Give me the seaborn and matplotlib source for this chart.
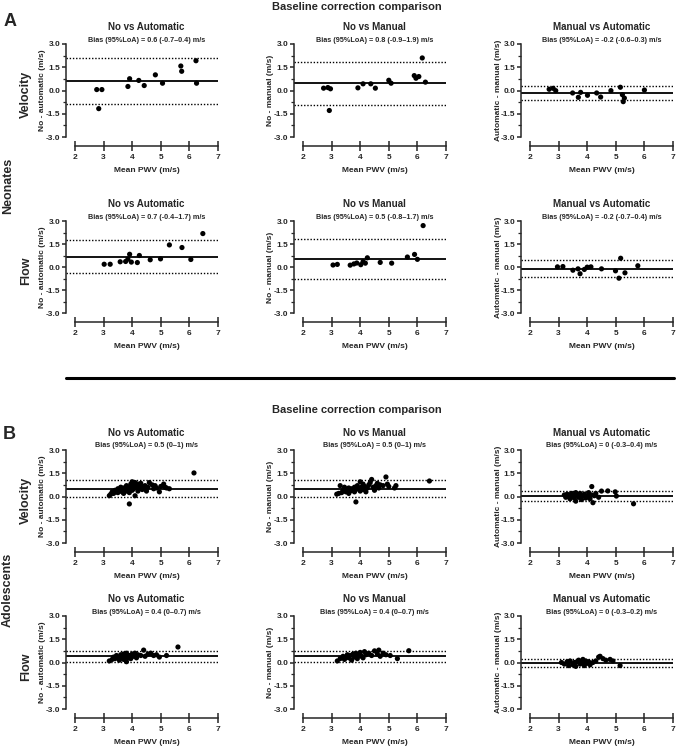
import numpy as np
import pandas as pd
import matplotlib
matplotlib.use("Agg")
import matplotlib.pyplot as plt
from matplotlib.lines import Line2D
from matplotlib.ticker import MultipleLocator, FormatStrFormatter
import seaborn as sns

# ---- data: (mean PWV, difference) per panel, bias and limits of agreement ----
# Neonates, velocity
neo_vel_na_x = [2.76, 2.94, 2.83, 3.85, 3.91, 4.23, 4.42, 4.81, 5.06, 5.70, 5.73, 6.23, 6.25]
neo_vel_na_y = [0.06, 0.06, -1.17, 0.26, 0.76, 0.65, 0.32, 1.01, 0.47, 1.58, 1.24, 1.92, 0.47]
neo_vel_nm_x = [2.72, 2.87, 2.96, 2.92, 3.92, 4.10, 4.37, 4.53, 5.00, 5.08, 5.89, 5.95, 6.05, 6.17, 6.28]
neo_vel_nm_y = [0.15, 0.19, 0.11, -1.29, 0.17, 0.43, 0.43, 0.15, 0.66, 0.47, 0.96, 0.79, 0.90, 2.10, 0.54]
neo_vel_ma_x = [2.67, 2.81, 2.90, 3.49, 3.69, 3.77, 4.01, 4.33, 4.47, 4.83, 5.16, 5.23, 5.30, 5.26, 6.00]
neo_vel_ma_y = [0.08, 0.14, -0.01, -0.16, -0.44, -0.12, -0.31, -0.16, -0.42, -0.01, 0.21, -0.27, -0.49, -0.72, 0.03]
# Neonates, flow
neo_flow_na_x = [3.02, 3.23, 3.58, 3.77, 3.85, 3.91, 3.97, 4.18, 4.25, 4.63, 4.99, 5.30, 5.74, 6.05, 6.47]
neo_flow_na_y = [0.18, 0.18, 0.34, 0.36, 0.51, 0.83, 0.32, 0.29, 0.75, 0.47, 0.53, 1.44, 1.27, 0.49, 2.18]
neo_flow_nm_x = [3.05, 3.20, 3.65, 3.78, 3.88, 4.02, 4.10, 4.18, 4.25, 4.70, 5.10, 5.65, 5.90, 6.00, 6.20]
neo_flow_nm_y = [0.13, 0.17, 0.12, 0.20, 0.26, 0.15, 0.35, 0.25, 0.60, 0.30, 0.25, 0.65, 0.82, 0.50, 2.70]
neo_flow_ma_x = [2.96, 3.15, 3.50, 3.68, 3.75, 3.90, 4.00, 4.13, 4.50, 4.99, 5.11, 5.17, 5.32, 5.77]
neo_flow_ma_y = [0.01, 0.03, -0.21, -0.12, -0.44, -0.16, -0.01, 0.01, -0.12, -0.25, -0.73, 0.57, -0.38, 0.08]

# Adolescents, velocity
ado_vel_na_x = [3.20, 3.25, 3.30, 3.35, 3.40, 3.45, 3.50, 3.50, 3.55, 3.60, 3.60, 3.65, 3.70, 3.70, 3.75,
                3.80, 3.80, 3.85, 3.90, 3.90, 3.92, 3.95, 4.00, 4.00, 4.05, 4.05, 4.10, 4.10, 4.15, 4.20,
                4.20, 4.25, 4.30, 4.30, 4.35, 4.40, 4.45, 4.50, 4.55, 4.60, 4.70, 4.75, 4.80, 4.85, 4.95,
                5.00, 5.10, 5.15, 5.20, 5.30, 6.16]
ado_vel_na_y = [0.05, 0.15, 0.30, 0.20, 0.40, 0.30, 0.50, 0.25, 0.35, 0.60, 0.40, 0.30, 0.55, 0.20, 0.45,
                0.70, 0.35, 0.50, 0.25, -0.48, 0.60, 0.80, 0.95, 0.40, 0.70, 0.50, 0.90, 0.05, 0.60, 0.80,
                0.35, 0.50, 0.65, 0.85, 0.45, 0.55, 0.70, 0.35, 0.60, 0.90, 0.75, 0.50, 0.70, 0.55, 0.30,
                0.65, 0.80, 0.60, 0.55, 0.50, 1.52]
ado_vel_nm_x = [3.18, 3.25, 3.30, 3.35, 3.40, 3.45, 3.50, 3.55, 3.60, 3.60, 3.65, 3.70, 3.75, 3.80, 3.80,
                3.85, 3.85, 3.90, 3.95, 4.00, 4.00, 4.05, 4.10, 4.10, 4.15, 4.20, 4.25, 4.30, 4.35, 4.40,
                4.45, 4.50, 4.55, 4.60, 4.65, 4.70, 4.80, 4.90, 4.95, 5.00, 5.20, 5.25, 6.42]
ado_vel_nm_y = [0.15, 0.20, 0.70, 0.25, 0.40, 0.60, 0.30, 0.45, 0.20, 0.55, 0.35, 0.50, 0.40, 0.60, 0.30,
                -0.35, 0.45, 0.70, 0.50, 0.95, 0.35, 0.60, 0.80, 0.45, 0.65, 0.30, 0.55, 0.75, 0.90, 1.10,
                0.60, 0.40, 0.70, 0.85, 0.55, 0.75, 0.70, 1.26, 0.80, 0.65, 0.55, 0.70, 1.00]
ado_vel_ma_x = [3.20, 3.25, 3.30, 3.35, 3.40, 3.45, 3.50, 3.55, 3.60, 3.60, 3.65, 3.70, 3.75, 3.80, 3.85,
                3.90, 3.95, 4.00, 4.05, 4.10, 4.15, 4.16, 4.20, 4.25, 4.30, 4.40, 4.50, 4.72, 4.98, 5.02,
                5.62]
ado_vel_ma_y = [0.10, -0.05, 0.15, 0.00, -0.15, 0.20, 0.05, -0.10, 0.25, -0.30, 0.10, -0.05, 0.20, -0.20, 0.05,
                0.15, -0.10, 0.00, 0.25, -0.15, 0.10, 0.64, -0.40, 0.05, 0.20, -0.05, 0.35, 0.36, 0.30, 0.03,
                -0.47]
# Adolescents, flow
ado_flow_na_x = [3.20, 3.30, 3.35, 3.40, 3.45, 3.50, 3.55, 3.60, 3.65, 3.70, 3.70, 3.75, 3.80, 3.80, 3.85,
                 3.90, 3.95, 4.00, 4.05, 4.10, 4.15, 4.20, 4.30, 4.40, 4.45, 4.55, 4.65, 4.75, 4.85, 4.95,
                 5.20, 5.60]
ado_flow_na_y = [0.10, 0.20, 0.35, 0.25, 0.45, 0.30, 0.15, 0.50, 0.35, 0.20, 0.55, 0.40, 0.05, 0.60, 0.30,
                 0.45, 0.25, 0.55, 0.40, 0.60, 0.30, 0.50, 0.45, 0.80, 0.40, 0.55, 0.60, 0.45, 0.50, 0.35,
                 0.45, 1.00]
ado_flow_nm_x = [3.20, 3.30, 3.40, 3.45, 3.50, 3.55, 3.60, 3.65, 3.70, 3.75, 3.80, 3.85, 3.90, 3.95, 4.00,
                 4.05, 4.10, 4.15, 4.20, 4.30, 4.40, 4.50, 4.60, 4.65, 4.70, 4.80, 4.90, 5.05, 5.30, 5.70]
ado_flow_nm_y = [0.10, 0.25, 0.40, 0.20, 0.35, 0.50, 0.30, 0.45, 0.15, 0.55, 0.35, 0.60, 0.25, 0.45, 0.65,
                 0.40, 0.30, 0.70, 0.50, 0.60, 0.45, 0.75, 0.55, 0.80, 0.40, 0.60, 0.50, 0.45, 0.25, 0.76]
ado_flow_ma_x = [3.10, 3.20, 3.30, 3.35, 3.40, 3.50, 3.55, 3.60, 3.65, 3.70, 3.75, 3.80, 3.85, 3.90, 3.95,
                 4.00, 4.05, 4.10, 4.20, 4.30, 4.40, 4.45, 4.55, 4.65, 4.80, 4.90, 5.15]
ado_flow_ma_y = [0.00, -0.10, 0.05, -0.20, 0.10, -0.15, 0.00, -0.25, 0.05, 0.15, -0.10, 0.00, 0.20, -0.20, 0.10,
                 -0.05, 0.05, -0.15, 0.00, 0.10, 0.35, 0.40, 0.25, 0.15, 0.20, 0.10, -0.20]

# bias, lower LoA, upper LoA (as drawn)
neo_vel_lines = [(0.60, -0.86, 2.07), (0.47, -0.94, 1.82), (-0.15, -0.60, 0.31)]
neo_flow_lines = [(0.68, -0.42, 1.74), (0.53, -0.75, 1.81), (-0.14, -0.68, 0.47)]
ado_vel_lines = [(0.50, -0.04, 1.04), (0.50, -0.02, 1.09), (0.03, -0.32, 0.38)]
ado_flow_lines = [(0.39, 0.03, 0.75), (0.39, 0.03, 0.72), (0.00, -0.29, 0.25)]

col_titles = ["No vs Automatic", "No vs Manual", "Manual vs Automatic"]
ylabels = ["No - automatic (m/s)", "No - manual (m/s)", "Automatic - manual (m/s)"]
bias_texts = [
    ["Bias (95%LoA) = 0.6 (-0.7\u20130.4) m/s", "Bias (95%LoA) = 0.8 (-0.9\u20131.9) m/s",
     "Bias (95%LoA) = -0.2 (-0.6\u20130.3) m/s"],
    ["Bias (95%LoA) = 0.7 (-0.4\u20131.7) m/s", "Bias (95%LoA) = 0.5 (-0.8\u20131.7) m/s",
     "Bias (95%LoA) = -0.2 (-0.7\u20130.4) m/s"],
    ["Bias (95%LoA) = 0.5 (0\u20131) m/s", "Bias (95%LoA) = 0.5 (0\u20131) m/s",
     "Bias (95%LoA) = 0 (-0.3\u20130.4) m/s"],
    ["Bias (95%LoA) = 0.4 (0\u20130.7) m/s", "Bias (95%LoA) = 0.4 (0\u20130.7) m/s",
     "Bias (95%LoA) = 0 (-0.3\u20130.2) m/s"],
]
row_names = ["Velocity", "Flow", "Velocity", "Flow"]

panels = [
    [(neo_vel_na_x, neo_vel_na_y), (neo_vel_nm_x, neo_vel_nm_y), (neo_vel_ma_x, neo_vel_ma_y)],
    [(neo_flow_na_x, neo_flow_na_y), (neo_flow_nm_x, neo_flow_nm_y), (neo_flow_ma_x, neo_flow_ma_y)],
    [(ado_vel_na_x, ado_vel_na_y), (ado_vel_nm_x, ado_vel_nm_y), (ado_vel_ma_x, ado_vel_ma_y)],
    [(ado_flow_na_x, ado_flow_na_y), (ado_flow_nm_x, ado_flow_nm_y), (ado_flow_ma_x, ado_flow_ma_y)],
]
lines = [neo_vel_lines, neo_flow_lines, ado_vel_lines, ado_flow_lines]

# ---- style ----
sns.set_style("ticks")
plt.rcParams["font.family"] = ["Liberation Sans", "DejaVu Sans"]
plt.rcParams["font.weight"] = "bold"
plt.rcParams["axes.labelweight"] = "bold"

W, H = 677, 746
fig = plt.figure(figsize=(W / 100, H / 100), dpi=100)


def fx(x):
    return x / W


def fy(y):
    return 1 - y / H


# layout in pixels
col_left = [66, 294, 521]
col_right = [218, 446, 673]
row_top = [44, 221, 450, 616]
row_bot = [146, 322, 552, 718]
off = 9

for r in range(4):
    for c in range(3):
        l, rt, t, b = col_left[c], col_right[c], row_top[r], row_bot[r]
        ax = fig.add_axes([fx(l), fy(b), (rt - l) / W, (b - t) / H])
        ppx = (rt - l - off) / 5
        ppy = (b - off - t) / 6
        xmin = 2 - off / ppx
        ymin = -3 - off / ppy

        xs, ys = panels[r][c]
        df = pd.DataFrame({"mean": xs, "diff": ys})
        sns.scatterplot(data=df, x="mean", y="diff", ax=ax, color="black", s=14,
                        edgecolor="none", clip_on=False, zorder=3)

        bias, lo, hi = lines[r][c]
        ax.axhline(bias, color="black", lw=1.3, zorder=2)
        ax.axhline(lo, color="black", lw=1.0, ls=(0, (1, 1.3)), zorder=2)
        ax.axhline(hi, color="black", lw=1.0, ls=(0, (1, 1.3)), zorder=2)

        ax.set_xlim(xmin, 7)
        ax.set_ylim(ymin, 3)
        sns.despine(ax=ax)
        ax.spines["left"].set_bounds(-3, 3)
        ax.spines["bottom"].set_bounds(2, 7)
        ax.spines["left"].set_linewidth(1.1)
        ax.spines["bottom"].set_linewidth(1.1)

        ax.set_xticks([2, 3, 4, 5, 6, 7])
        ax.set_yticks([-3, -1.5, 0, 1.5, 3])
        ax.yaxis.set_minor_locator(MultipleLocator(0.75))
        ax.yaxis.set_major_formatter(FormatStrFormatter("%.1f"))
        ax.tick_params(axis="x", direction="inout", length=7, width=1.1, labelsize=6, pad=2)
        ax.tick_params(axis="y", which="major", direction="out", length=3, width=1.1,
                       labelsize=6, pad=1)
        ax.tick_params(axis="y", which="minor", direction="out", length=2, width=0.9)
        for lab in ax.get_xticklabels() + ax.get_yticklabels():
            lab.set_fontweight("bold")

        ax.set_xlabel("Mean PWV (m/s)", fontsize=6, fontweight="bold")
        ax.xaxis.set_label_coords((off + (rt - l - off) / 2) / (rt - l), -24 / (b - t))
        ax.xaxis.label.set_va("center")
        ax.set_ylabel(ylabels[c], fontsize=6, fontweight="bold")
        ax.yaxis.set_label_coords(-23 / (rt - l), (0 - ymin) / (3 - ymin))
        ax.yaxis.label.set_va("center")

        cx = (l + off + rt) / 2
        fig.text(fx(cx), fy(t - 17), col_titles[c], ha="center", va="center",
                 fontsize=7, fontweight="bold")
        fig.text(fx(cx), fy(t - 4), bias_texts[r][c], ha="center", va="center",
                 fontsize=5.2, fontweight="bold")

    fig.text(fx(26), fy((row_top[r] + row_bot[r] - off) / 2 + 4), row_names[r], rotation=90,
             ha="center", va="center", fontsize=9, fontweight="bold")

# section headers
fig.text(fx(357), fy(7), "Baseline correction comparison", ha="center", va="center",
         fontsize=8, fontweight="bold")
fig.text(fx(357), fy(410), "Baseline correction comparison", ha="center", va="center",
         fontsize=8, fontweight="bold")
fig.text(fx(10), fy(22), "A", ha="center", va="center", fontsize=13, fontweight="bold")
fig.text(fx(9), fy(434), "B", ha="center", va="center", fontsize=13, fontweight="bold")
fig.text(fx(8), fy(186), "Neonates", rotation=90, ha="center", va="center",
         fontsize=9, fontweight="bold")
fig.text(fx(8), fy(590), "Adolescents", rotation=90, ha="center", va="center",
         fontsize=9, fontweight="bold")

fig.add_artist(Line2D([fx(66), fx(674)], [fy(378), fy(378)], color="black", lw=2.2))

fig.savefig("out.png", dpi=100)
